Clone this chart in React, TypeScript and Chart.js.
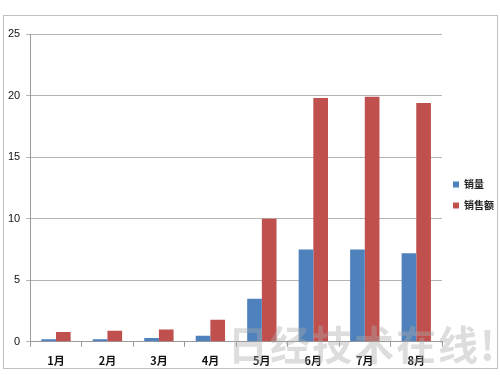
import React, { useEffect, useRef } from "react";
import { Chart, registerables } from "chart.js";

Chart.register(...registerables);

const categories = ["1月", "2月", "3月", "4月", "5月", "6月", "7月", "8月"];
const salesVolume = [0.2, 0.2, 0.3, 0.5, 3.5, 7.5, 7.5, 7.2];
const salesAmount = [0.8, 0.9, 1.0, 1.8, 10.0, 19.8, 19.9, 19.4];
const seriesNames = ["销量", "销售额"];
const yMin = 0;
const yMax = 25;
const yStep = 5;
const watermark = "日经技术在线!";

const legendShift = {
  id: "legendShift",
  afterLayout(chart: any) {
    const lg = chart.legend;
    if (lg) {
      lg.top -= 9;
      lg.bottom -= 9;
    }
  },
};

export default function App() {
  const canvasRef = useRef<HTMLCanvasElement | null>(null);

  useEffect(() => {
    if (!canvasRef.current) return;
    const chart = new Chart(canvasRef.current, {
      type: "bar",
      data: {
        labels: categories,
        datasets: [
          {
            label: seriesNames[0],
            data: salesVolume,
            backgroundColor: "#4F81BD",
            borderWidth: 0,
            barPercentage: 1,
            categoryPercentage: 0.57,
          },
          {
            label: seriesNames[1],
            data: salesAmount,
            backgroundColor: "#C0504D",
            borderWidth: 0,
            barPercentage: 1,
            categoryPercentage: 0.57,
          },
        ],
      },
      plugins: [legendShift],
      options: {
        animation: false,
        responsive: false,
        maintainAspectRatio: false,
        layout: { padding: { top: 34, left: 2, right: 0, bottom: 1 } },
        plugins: {
          tooltip: { enabled: false },
          legend: {
            position: "right",
            maxWidth: 58,
            labels: {
              boxWidth: 6,
              boxHeight: 6,
              padding: 11,
              color: "#222",
              font: { family: "'Noto Sans CJK SC', sans-serif", size: 10, weight: "bold" },
            },
          },
        },
        scales: {
          x: {
            grid: {
              offset: true,
              drawOnChartArea: false,
              drawTicks: true,
              tickLength: 5,
              color: "#9a9a9a",
            },
            border: { color: "#9a9a9a", width: 1 },
            ticks: {
              color: "#111",
              padding: 7,
              font: { family: "'Noto Sans CJK SC', sans-serif", size: 11, weight: "bold" },
            },
          },
          y: {
            min: yMin,
            max: yMax,
            ticks: {
              stepSize: yStep,
              color: "#111",
              padding: 6,
              font: { family: "'Liberation Sans', Arial, sans-serif", size: 11 },
            },
            grid: {
              color: "#b4b4b4",
              lineWidth: 1,
              tickLength: 4,
            },
            border: { color: "#9a9a9a", width: 1 },
          },
        },
      },
    });
    return () => chart.destroy();
  }, []);

  return (
    <div
      style={{
        position: "absolute",
        left: 0,
        top: 0,
        width: 500,
        height: 375,
        background: "#fff",
        overflow: "hidden",
      }}
    >
      <div
        style={{
          position: "absolute",
          left: 3,
          top: 15,
          width: 495,
          height: 354,
          border: "1px solid #c0c0c0",
          boxSizing: "border-box",
        }}
      />
      <canvas
        ref={canvasRef}
        width={500}
        height={375}
        style={{ position: "absolute", left: 0, top: 0, width: 500, height: 375 }}
      />
      <div
        style={{
          position: "absolute",
          left: 228,
          top: 318,
          fontFamily: "'Noto Sans CJK SC', sans-serif",
          fontSize: 40,
          fontWeight: "bold",
          letterSpacing: 2,
          color: "rgba(170,170,170,0.4)",
          lineHeight: "50px",
          whiteSpace: "nowrap",
          pointerEvents: "none",
        }}
      >
        {watermark}
      </div>
    </div>
  );
}
